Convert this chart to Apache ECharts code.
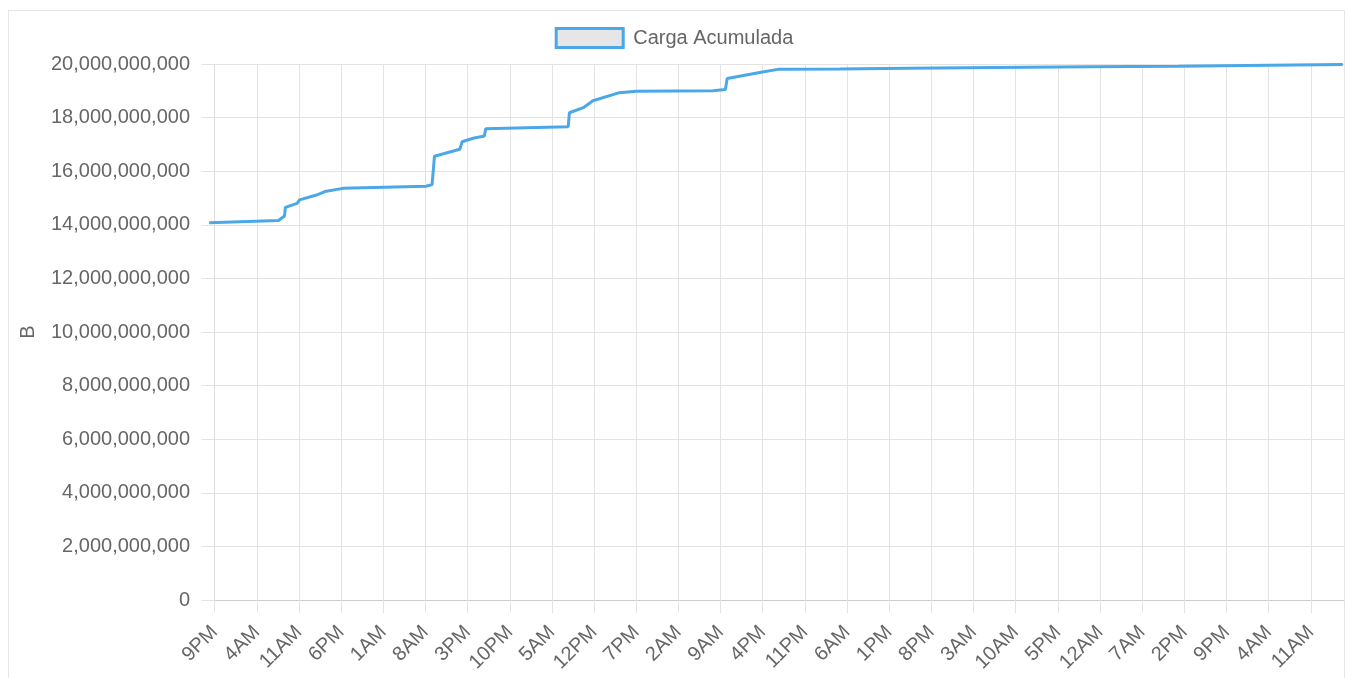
<!DOCTYPE html>
<html>
<head>
<meta charset="utf-8">
<script src="https://cdn.jsdelivr.net/npm/echarts@6/dist/echarts.min.js"></script>
<style>
body{margin:0;background:#fff;}
#frame{position:absolute;left:8px;top:10px;width:1335px;height:700px;border:1px solid #e6e6e6;}
#chart{position:absolute;left:0;top:0;width:1348px;height:678px;}
</style>
</head>
<body>
<div id="frame"></div>
<div id="chart"></div>
<script>
// horas desde las 9PM del primer dia
var horas = [-0.9, 10.6, 11.6, 11.75, 13.7, 14.1, 16.9, 18.3, 21.3, 35.1, 36.1, 36.5,
    40.7, 41.1, 42.9, 44.8, 45.0, 58.7, 58.9, 61.2, 62.8, 67.2, 70.0, 82.7, 84.8, 85.1,
    90.5, 93.5, 103.8, 115, 130, 145, 160, 175, 187.3];
// carga acumulada en miles de millones de bytes
var cargaMM = [14.08, 14.16, 14.33, 14.65, 14.80, 14.93, 15.11, 15.24, 15.36, 15.44, 15.50, 16.56,
    16.82, 17.10, 17.23, 17.31, 17.58, 17.66, 18.18, 18.37, 18.63, 18.93, 18.98, 19.00, 19.05, 19.46,
    19.68, 19.80, 19.81, 19.84, 19.87, 19.90, 19.92, 19.95, 19.98];
var etiquetas = ['9PM','4AM','11AM','6PM','1AM','8AM','3PM','10PM','5AM','12PM','7PM','2AM','9AM',
    '4PM','11PM','6AM','1PM','8PM','3AM','10AM','5PM','12AM','7AM','2PM','9PM','4AM','11AM'];
var pasoHoras = 7;

var posTicks = etiquetas.map(function(e, i){ return i * pasoHoras; });
var datos = horas.map(function(h, i){ return [h, cargaMM[i] * 1e9]; });
var fuente = '"Liberation Sans", Arial, sans-serif';

var chart = echarts.init(document.getElementById('chart'));
var option = {
    animation: false,
    textStyle: { fontFamily: fuente },
    legend: {
        top: 22,
        left: 'center',
        icon: 'rect',
        itemWidth: 67,
        itemHeight: 19,
        itemGap: 10,
        itemStyle: { color: '#e6e6e6', borderColor: '#4aa8e8', borderWidth: 3 },
        textStyle: { fontSize: 20, color: '#666', fontFamily: fuente, padding: [0, 0, 0, 5] },
        data: ['Carga Acumulada']
    },
    grid: { left: 208, right: 4, top: 64, bottom: 78 },
    xAxis: {
        type: 'value',
        min: -1.1,
        max: 187.5,
        axisLine: { show: true, lineStyle: { color: '#ccc' } },
        axisTick: { show: true, length: 13, customValues: posTicks, lineStyle: { color: '#e3e3e3' } },
        splitLine: { show: true, lineStyle: { color: '#e3e3e3' } },
        axisLabel: {
            customValues: posTicks,
            rotate: 45,
            margin: 29,
            fontSize: 20,
            color: '#666',
            formatter: function(v){ return etiquetas[Math.round(v / pasoHoras)]; }
        }
    },
    yAxis: {
        type: 'value',
        min: 0,
        max: 20000000000,
        interval: 2000000000,
        name: 'B',
        nameLocation: 'middle',
        nameRotate: 90,
        nameGap: 170,
        nameTextStyle: { fontSize: 20, color: '#666' },
        axisLine: { show: true, lineStyle: { color: '#ddd' } },
        axisTick: { show: true, length: 13, lineStyle: { color: '#e3e3e3' } },
        splitLine: { lineStyle: { color: '#e3e3e3' } },
        axisLabel: {
            margin: 18,
            fontSize: 20,
            color: '#666',
            formatter: function(v){ return v.toLocaleString('en-US'); }
        }
    },
    series: [{
        name: 'Carga Acumulada',
        type: 'line',
        showSymbol: false,
        data: datos,
        lineStyle: { width: 3, color: '#4aa8e8' },
        itemStyle: { color: '#4aa8e8' }
    }]
};
chart.setOption(option);
</script>
</body>
</html>
